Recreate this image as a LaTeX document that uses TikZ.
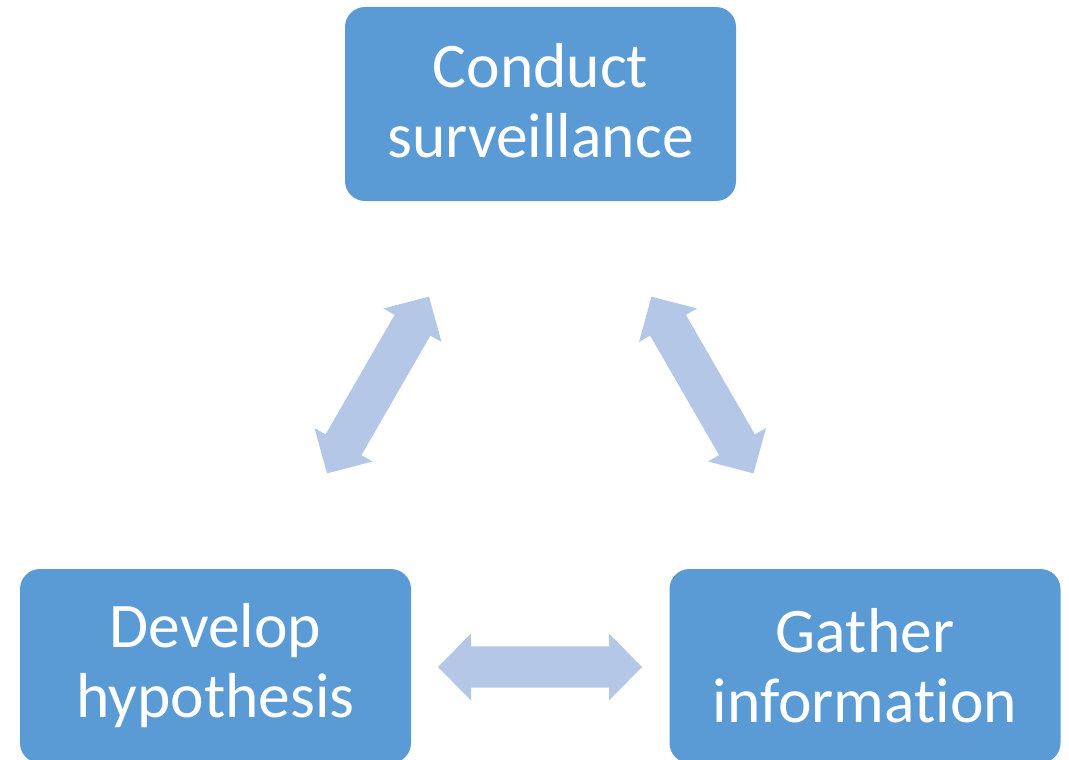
\documentclass[tikz,border=0pt]{standalone}
\usepackage{fontspec}
\setmainfont[Ligatures=NoCommon,RawFeature=-liga]{Carlito}
\definecolor{boxblue}{HTML}{5B9BD5}
\definecolor{arrowblue}{HTML}{B4C7E7}
\newcommand\myDblArrow{%
  \fill[arrowblue] (-102,0) -- (-69,33.5) -- (-69,20.7) -- (69,20.7) -- (69,33.5)
    -- (102,0) -- (69,-33.5) -- (69,-20.7) -- (-69,-20.7) -- (-69,-33.5) -- cycle;}
\begin{document}
\begin{tikzpicture}[x=1pt,y=-1pt,
  stagebox/.style={rectangle, rounded corners=20pt, fill=boxblue, draw=none,
    minimum width=391pt, minimum height=194pt, inner sep=0pt,
    text=white, align=center, font=\fontsize{63.5}{70}\selectfont}]
\useasboundingbox (0,0) rectangle (1069,760);
\node[stagebox, text depth=7pt] (conduct) at (540.5,104) {Conduct\\surveillance};
\node[stagebox] (develop) at (215.5,666) {Develop\\hypothesis};
\node[stagebox] (gather) at (865,666) {Gather\\information};
\begin{scope}[shift={(540,667)}]\myDblArrow\end{scope}
\begin{scope}[shift={(378,385)},rotate=60]\myDblArrow\end{scope}
\begin{scope}[shift={(702.5,385)},rotate=-60]\myDblArrow\end{scope}
\end{tikzpicture}
\end{document}
